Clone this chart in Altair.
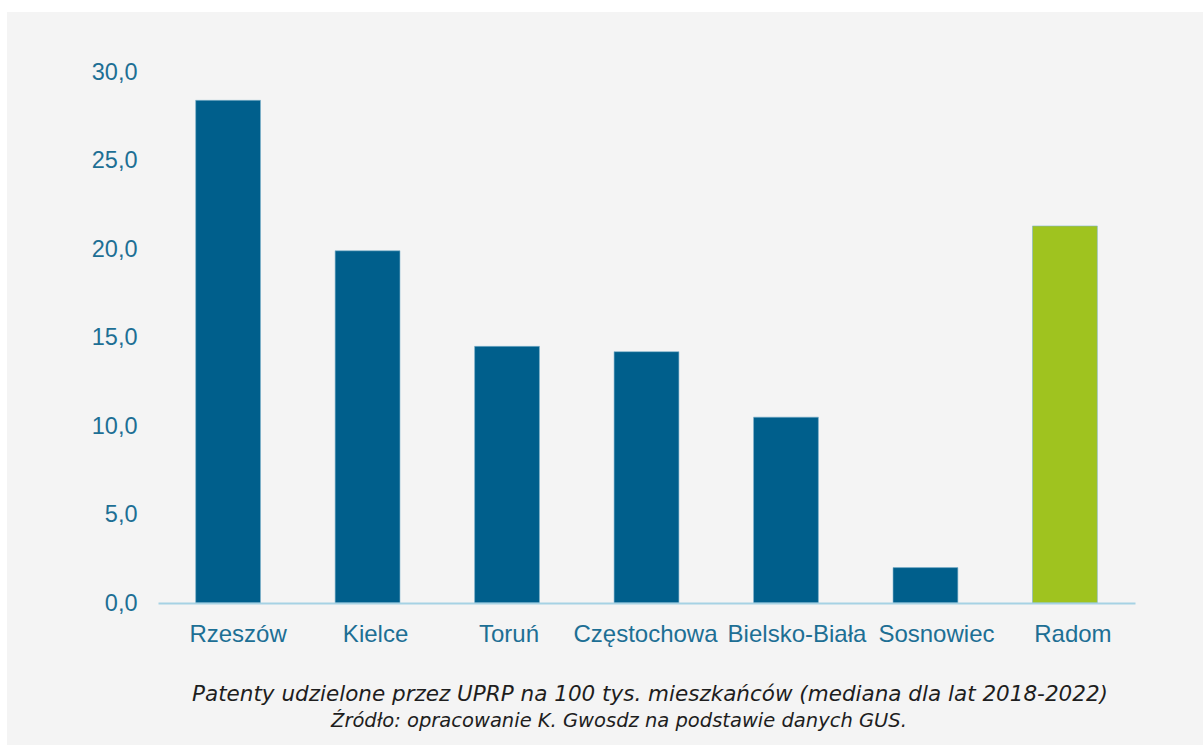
import altair as alt
import pandas as pd

cities = ["Rzeszów", "Kielce", "Toruń", "Częstochowa", "Bielsko-Biała", "Sosnowiec", "Radom"]
values = [28.4, 19.9, 14.5, 14.2, 10.5, 2.0, 21.3]
colors = ["#005f8c", "#005f8c", "#005f8c", "#005f8c", "#005f8c", "#005f8c", "#9fc31f"]
label_shift = [10, 8, 2, -1, 11, 11, 8]
y_ticks = [0, 5, 10, 15, 20, 25, 30]
caption1 = "Patenty udzielone przez UPRP na 100 tys. mieszkańców (mediana dla lat 2018-2022)"
caption2 = "Źródło: opracowanie K. Gwosdz na podstawie danych GUS."

df = pd.DataFrame({"city": cities, "value": values, "color": colors})

W, H = 977, 531
PL, PT = 158, 72

offset_expr = " : ".join(
    f"datum.label == '{c}' ? {s}" for c, s in zip(cities, label_shift)
) + " : 0"

bg = alt.Chart(pd.DataFrame({"a": [0]})).mark_rect(color="#f4f4f4").encode(
    x=alt.value(7 - PL), x2=alt.value(1203 - PL), y=alt.value(12 - PT), y2=alt.value(745 - PT)
)

bars = alt.Chart(df).mark_bar(stroke="#7fb3cc", strokeWidth=0.6).encode(
    x=alt.X("city:N", sort=cities, title=None,
            scale=alt.Scale(paddingInner=0.535, paddingOuter=0.27),
            axis=alt.Axis(labelAngle=0, labelFont="Liberation Sans", labelFontSize=24,
                          labelColor="#1d6f94", labelPadding=19, ticks=False,
                          labelOffset=alt.ExprRef(offset_expr),
                          domainColor="#a6d2e4", domainWidth=2, zindex=1)),
    y=alt.Y("value:Q", title=None, scale=alt.Scale(domain=[0, 30], nice=False),
            axis=alt.Axis(values=y_ticks, labelExpr="replace(format(datum.value, '.1f'), '.', ',')",
                          labelFont="Liberation Sans", labelFontSize=23.5, labelColor="#1d6f94",
                          labelPadding=21, ticks=False, domain=False, grid=False, zindex=1)),
    color=alt.Color("color:N", scale=None),
)

cap1 = alt.Chart(pd.DataFrame({"t": [caption1]})).mark_text(
    font="DejaVu Sans", fontStyle="italic", fontSize=21.5, color="#1e1e1e", align="center", baseline="middle"
).encode(text="t:N", x=alt.value(650 - PL), y=alt.value(695 - PT))

cap2 = alt.Chart(pd.DataFrame({"t": [caption2]})).mark_text(
    font="DejaVu Sans", fontStyle="italic", fontSize=19.5, color="#1e1e1e", align="center", baseline="middle"
).encode(text="t:N", x=alt.value(619 - PL), y=alt.value(721 - PT))

chart = alt.layer(bg, bars, cap1, cap2).properties(
    width=W, height=H,
    autosize=alt.AutoSizeParams(type="none"),
    padding={"left": PL, "top": PT, "right": 1203 - PL - W, "bottom": 745 - PT - H},
    background="white",
).configure_view(stroke=None)

chart.save("out.html", embed_options={"renderer": "svg", "actions": False})
